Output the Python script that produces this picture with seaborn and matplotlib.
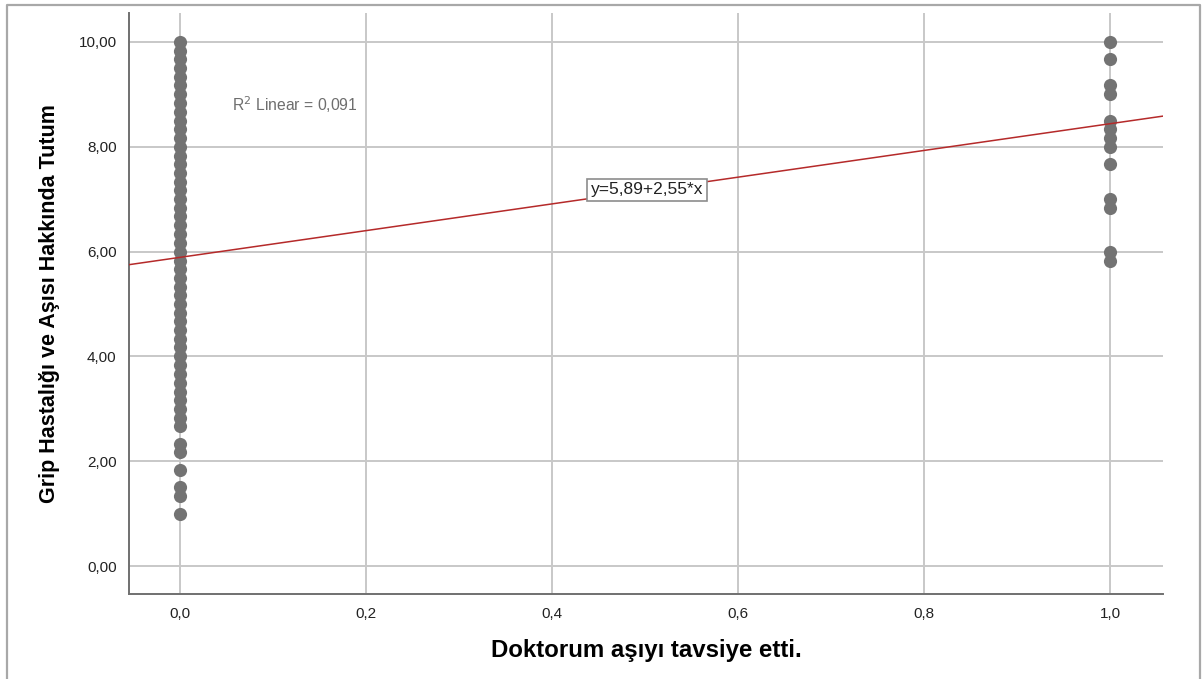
import matplotlib
matplotlib.use("Agg")
import matplotlib.pyplot as plt
import seaborn as sns
import pandas as pd
from matplotlib.lines import Line2D

# ---- data ----
group_no = [1.00, 1.33, 1.50, 1.83, 2.17, 2.33, 2.67, 2.83, 3.00, 3.17, 3.33, 3.50,
            3.67, 3.83, 4.00, 4.17, 4.33, 4.50, 4.67, 4.83, 5.00, 5.17, 5.33, 5.50,
            5.67, 5.83, 6.00, 6.17, 6.33, 6.50, 6.67, 6.83, 7.00, 7.17, 7.33, 7.50,
            7.67, 7.83, 8.00, 8.17, 8.33, 8.50, 8.67, 8.83, 9.00, 9.17, 9.33, 9.50,
            9.67, 9.83, 10.00]
group_yes = [5.83, 6.00, 6.83, 7.00, 7.67, 8.00, 8.17, 8.33, 8.50, 9.00, 9.17, 9.67, 10.00]
intercept = 5.89
slope = 2.55
r2_label = "R$^2$ Linear = 0,091"
eq_label = "y=5,89+2,55*x"
x_ticks = [0.0, 0.2, 0.4, 0.6, 0.8, 1.0]
x_tick_labels = ["0,0", "0,2", "0,4", "0,6", "0,8", "1,0"]
y_ticks = [0, 2, 4, 6, 8, 10]
y_tick_labels = ["0,00", "2,00", "4,00", "6,00", "8,00", "10,00"]
x_label = "Doktorum aşıyı tavsiye etti."
y_label = "Grip Hastalığı ve Aşısı Hakkında Tutum"

df = pd.DataFrame({
    "x": [0.0] * len(group_no) + [1.0] * len(group_yes),
    "y": group_no + group_yes,
})

sns.set_theme(style="white")
plt.rcParams["font.family"] = ["Liberation Sans", "DejaVu Sans"]

fig = plt.figure(figsize=(12.02, 6.79), dpi=100)
ax = fig.add_axes([129 / 1202, 1 - 594 / 679, (1163 - 129) / 1202, (594 - 13) / 679])

ax.set_xlim(-0.0548, 1.057)
ax.set_ylim(-0.534, 10.553)

ax.set_axisbelow(True)
ax.grid(True, color="#c8c8c8", linewidth=1.4)

sns.scatterplot(data=df, x="x", y="y", ax=ax, color="#737373", s=90,
                linewidth=0, zorder=3)

ax.axline((0, intercept), slope=slope, color="#b52a2a", linewidth=1.1, zorder=4)

ax.text(0.056, 8.80, r2_label, fontsize=11.3, color="#6e6e6e", va="center", ha="left")
ax.text(0.502, 7.18, eq_label, fontsize=12.5, color="#222222", va="center", ha="center",
        zorder=5,
        bbox=dict(boxstyle="square,pad=0.2", facecolor="white", edgecolor="#8c8c8c",
                  linewidth=1.2))

ax.set_xticks(x_ticks)
ax.set_xticklabels(x_tick_labels)
ax.set_yticks(y_ticks)
ax.set_yticklabels(y_tick_labels)
ax.tick_params(axis="both", length=0, labelsize=11, labelcolor="#222222")
ax.tick_params(axis="y", pad=9)
ax.tick_params(axis="x", pad=9)

for side in ["top", "right"]:
    ax.spines[side].set_visible(False)
for side in ["left", "bottom"]:
    ax.spines[side].set_color("#707070")
    ax.spines[side].set_linewidth(1.4)

ax.set_xlabel(x_label, fontsize=17.3, fontweight="bold", color="black", labelpad=13)
ax.set_ylabel(y_label, fontsize=15.5, fontweight="bold", color="black", labelpad=13)

# outer frame
fx0, fx1, fy1 = 7 / 1202, 1200 / 1202, 1 - 5 / 679
fig.add_artist(Line2D([fx0, fx0, fx1, fx1], [0, fy1, fy1, 0], transform=fig.transFigure,
                      color="#a8a8a8", linewidth=1.6))

fig.savefig("out.png", dpi=100)
